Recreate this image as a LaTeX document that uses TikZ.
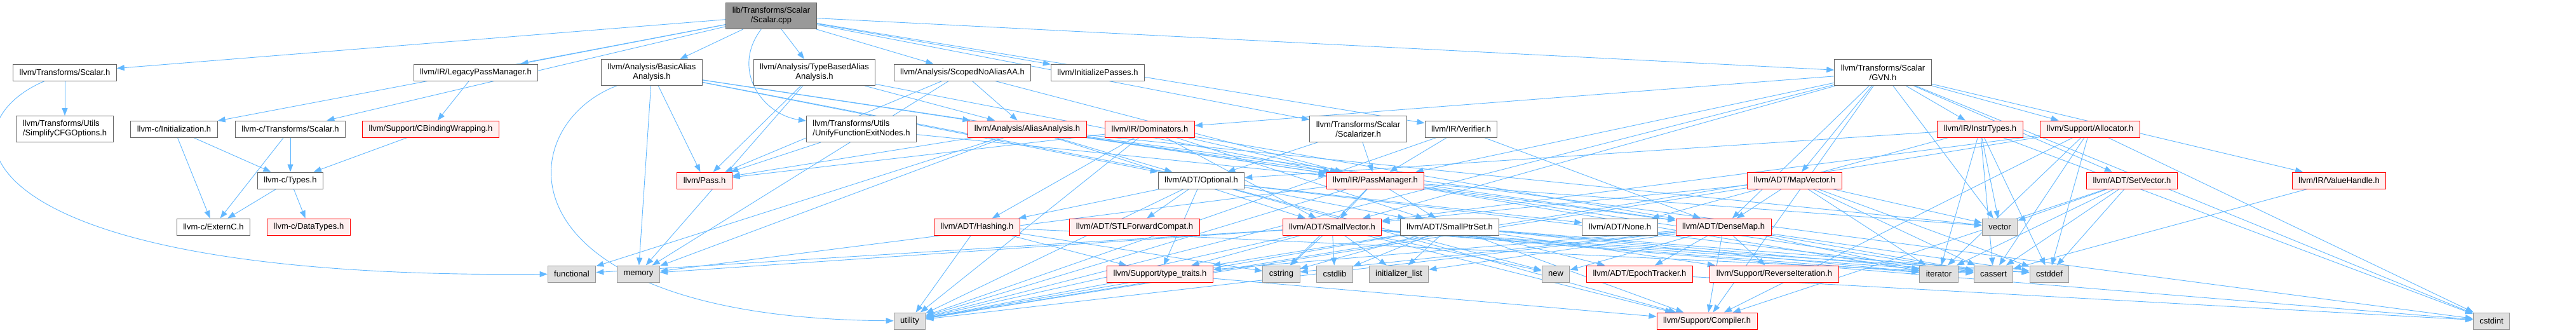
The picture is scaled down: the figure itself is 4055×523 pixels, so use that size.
\documentclass[tikz,border=0pt]{standalone}
\usepackage{fontspec}
\setmainfont{Liberation Sans}
\usepackage{tikz}
\usetikzlibrary{arrows.meta}
\usepackage{xcolor}
\definecolor{edgeblue}{HTML}{63B8FF}
\definecolor{hdrline}{HTML}{666666}
\definecolor{sysfill}{HTML}{E0E0E0}
\definecolor{sysline}{HTML}{999999}
\definecolor{trfill}{HTML}{FFF0F0}
\definecolor{trline}{HTML}{FF0000}
\definecolor{srcfill}{HTML}{999999}
\pgfdeclarelayer{edges}
\pgfsetlayers{edges,main}

\begin{document}
\begin{tikzpicture}[x=1pt,y=-1pt,font=\fontsize{13}{15}\selectfont,
  box/.style={rectangle,line width=1pt,inner xsep=10pt,inner ysep=2pt,minimum height=26pt,align=center},
  hdr/.style={box,draw=hdrline,fill=white},
  sys/.style={box,draw=sysline,fill=sysfill},
  trunc/.style={box,draw=trline,fill=trfill},
  srcfile/.style={box,draw=hdrline,fill=srcfill},
  tall/.style={minimum height=41pt},
  dep/.style={draw=edgeblue,line width=0.9pt,-{Triangle[length=12pt,width=9pt]}}]
  % Canvas in pixel units of the include graph, y pointing down.
  \useasboundingbox (0,0) rectangle (4055,523);

  % The source file.
  \node[srcfile,tall] (main) at (1214,25) {lib/Transforms/Scalar\\/Scalar.cpp};

  % Direct includes.
  \node[hdr] (tsc) at (102,114) {llvm/Transforms/Scalar.h};
  \node[hdr] (lpm) at (749,114) {llvm/IR/LegacyPassManager.h};
  \node[hdr,tall] (baa) at (1026,114) {llvm/Analysis/BasicAlias\\Analysis.h};
  \node[hdr,tall] (tbaa) at (1282,114) {llvm/Analysis/TypeBasedAlias\\Analysis.h};
  \node[hdr] (snaa) at (1515,114) {llvm/Analysis/ScopedNoAliasAA.h};
  \node[hdr] (ipass) at (1728,114) {llvm/InitializePasses.h};
  \node[hdr,tall] (gvn) at (2964,114) {llvm/Transforms/Scalar\\/GVN.h};

  \node[hdr,tall,align=left] (scfg) at (102,203) {llvm/Transforms/Utils\\/SimplifyCFGOptions.h};
  \node[hdr] (cinit) at (274,203) {llvm-c/Initialization.h};
  \node[hdr] (ctsc) at (457,203) {llvm-c/Transforms/Scalar.h};
  \node[trunc] (cbw) at (678,203) {llvm/Support/CBindingWrapping.h};
  \node[hdr,tall,align=left] (ufen) at (1356,203) {llvm/Transforms/Utils\\/UnifyFunctionExitNodes.h};
  \node[trunc] (aa) at (1617,203) {llvm/Analysis/AliasAnalysis.h};
  \node[trunc] (dom) at (1810,203) {llvm/IR/Dominators.h};
  \node[hdr,tall] (sclz) at (2138,203) {llvm/Transforms/Scalar\\/Scalarizer.h};
  \node[hdr] (ver) at (2300,203) {llvm/IR/Verifier.h};
  \node[trunc] (itypes) at (3117,203) {llvm/IR/InstrTypes.h};
  \node[trunc] (alloc) at (3290,203) {llvm/Support/Allocator.h};

  % Middle layers.
  \node[hdr] (ctypes) at (457,284) {llvm-c/Types.h};
  \node[trunc] (pass) at (1109,284) {llvm/Pass.h};
  \node[hdr] (opt) at (1891,284) {llvm/ADT/Optional.h};
  \node[trunc] (pm) at (2165,284) {llvm/IR/PassManager.h};
  \node[trunc] (mapv) at (2825,284) {llvm/ADT/MapVector.h};
  \node[trunc] (setv) at (3356,284) {llvm/ADT/SetVector.h};
  \node[trunc] (vh) at (3682,284) {llvm/IR/ValueHandle.h};

  \node[hdr] (externc) at (336,357) {llvm-c/ExternC.h};
  \node[trunc] (datatypes) at (486,357) {llvm-c/DataTypes.h};
  \node[trunc] (hash) at (1538,357) {llvm/ADT/Hashing.h};
  \node[trunc] (stlfc) at (1786,357) {llvm/ADT/STLForwardCompat.h};
  \node[trunc] (svec) at (2097,357) {llvm/ADT/SmallVector.h};
  \node[hdr] (sps) at (2282,357) {llvm/ADT/SmallPtrSet.h};
  \node[hdr] (nonehdr) at (2550,357) {llvm/ADT/None.h};
  \node[trunc] (dmap) at (2713,357) {llvm/ADT/DenseMap.h};
  \node[sys] (vector) at (3148,357) {vector};

  % Bottom layers.
  \node[sys] (functional) at (900,431) {functional};
  \node[sys] (memory) at (1005,431) {memory};
  \node[trunc] (ttraits) at (1826,431) {llvm/Support/type\_traits.h};
  \node[sys] (cstring) at (2017,431) {cstring};
  \node[sys] (cstdlib) at (2101,431) {cstdlib};
  \node[sys] (initlist) at (2202,431) {initializer\_list};
  \node[sys] (new) at (2449,431) {new};
  \node[trunc] (epoch) at (2581,431) {llvm/ADT/EpochTracker.h};
  \node[trunc] (reviter) at (2793,431) {llvm/Support/ReverseIteration.h};
  \node[sys] (iterator) at (3052,431) {iterator};
  \node[sys] (cassert) at (3138,431) {cassert};
  \node[sys] (cstddef) at (3226,431) {cstddef};

  \node[sys] (utility) at (1432,505) {utility};
  \node[trunc] (compiler) at (2687,505) {llvm/Support/Compiler.h};
  \node[sys] (cstdint) at (3922,505) {cstdint};

  % Include edges, drawn under the boxes.
  \begin{pgfonlayer}{edges}
    \foreach \t in {tsc,cinit,ctsc,lpm,baa,tbaa,snaa,ipass,sclz,ver,gvn}
      \draw[dep] (main) -- (\t);
    \draw[dep] (main) .. controls (1150,110) and (1200,180) .. (ufen);

    \draw[dep] (tsc) -- (scfg);
    \draw[dep] (tsc) .. controls (-100,200) and (-60,440) .. (functional);
    \foreach \t in {externc,ctypes} {
      \draw[dep] (cinit) -- (\t);
      \draw[dep] (ctsc) -- (\t);
    }
    \foreach \t in {externc,datatypes}
      \draw[dep] (ctypes) -- (\t);
    \draw[dep] (lpm) -- (cbw);
    \draw[dep] (cbw) -- (ctypes);

    \foreach \t in {aa,opt,sps,pm,pass,memory}
      \draw[dep] (baa) -- (\t);
    \draw[dep] (baa) .. controls (800,200) and (780,500) .. (utility);
    \foreach \t in {aa,pm,pass,memory} {
      \draw[dep] (tbaa) -- (\t);
      \draw[dep] (snaa) -- (\t);
    }
    \foreach \t in {pm,pass}
      \draw[dep] (ufen) -- (\t);
    \foreach \t in {pm,opt}
      \draw[dep] (sclz) -- (\t);
    \foreach \t in {pm,dmap,utility}
      \draw[dep] (ver) -- (\t);
    \foreach \t in {dom,itypes,alloc,setv,vh,mapv,dmap,pm,svec,compiler,cstdint,utility,vector}
      \draw[dep] (gvn) -- (\t);

    \foreach \t in {dmap,opt,svec,pm,pass,cstdint,functional,memory,vector}
      \draw[dep] (aa) -- (\t);
    \foreach \t in {dmap,hash,sps,svec,pm,pass,utility}
      \draw[dep] (dom) -- (\t);
    \foreach \t in {hash,nonehdr,stlfc,compiler,ttraits,cassert,new,utility}
      \draw[dep] (opt) -- (\t);
    \foreach \t in {dmap,sps,svec,cassert,cstring,iterator,memory,utility,vector}
      \draw[dep] (pm) -- (\t);
    \foreach \t in {dmap,svec,cassert,cstddef,iterator,utility,vector}
      \draw[dep] (mapv) -- (\t);
    \foreach \t in {compiler,cassert,cstddef,vector,iterator}
      \draw[dep] (setv) -- (\t);
    \foreach \t in {nonehdr,opt,cassert,cstddef,cstdint,iterator,vector}
      \draw[dep] (itypes) -- (\t);
    \foreach \t in {svec,compiler,cassert,cstddef,cstdint,iterator,utility}
      \draw[dep] (alloc) -- (\t);
    \draw[dep] (vh) -- (cassert);

    \foreach \t in {ttraits,cassert,cstring,utility}
      \draw[dep] (hash) -- (\t);
    \foreach \t in {compiler,ttraits,cassert,cstddef,cstdlib,cstring,functional,initlist,iterator,memory,new,utility,cstdint}
      \draw[dep] (svec) -- (\t);
    \foreach \t in {epoch,compiler,reviter,ttraits,cassert,cstddef,cstdlib,cstring,initlist,iterator,utility}
      \draw[dep] (sps) -- (\t);
    \foreach \t in {epoch,compiler,reviter,ttraits,cassert,cstddef,cstring,initlist,iterator,new,utility}
      \draw[dep] (dmap) -- (\t);
    \foreach \t in {compiler,utility}
      \draw[dep] (ttraits) -- (\t);
    \draw[dep] (epoch) -- (cstdint);
  \end{pgfonlayer}
\end{tikzpicture}
\end{document}
